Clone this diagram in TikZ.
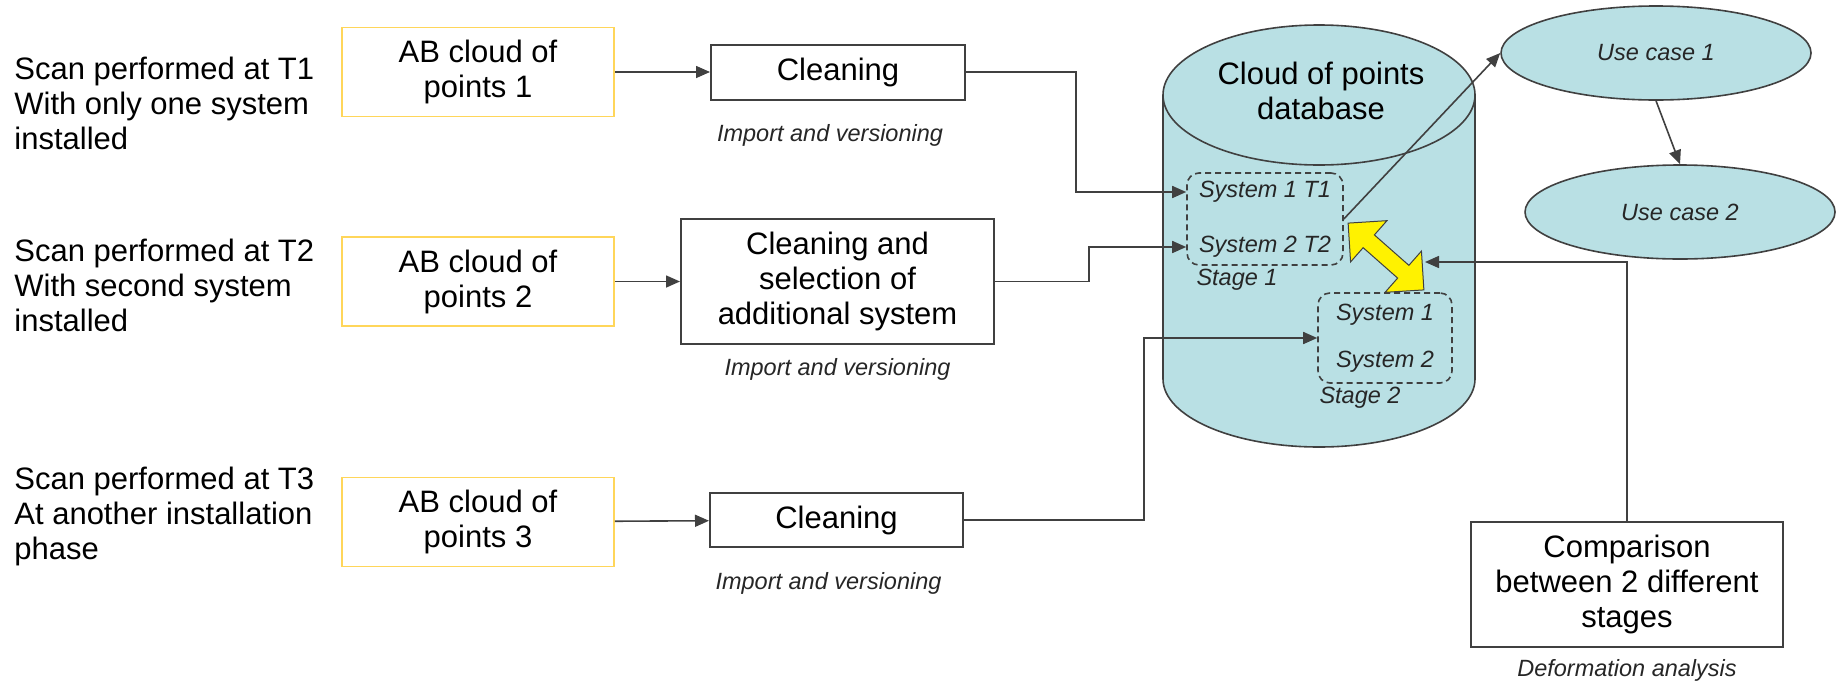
\documentclass[tikz,border=0pt]{standalone}
\usepackage{fontspec}
\setmainfont{Liberation Sans}
\usetikzlibrary{shapes,arrows.meta}

\definecolor{dbblue}{RGB}{185,224,228}
\definecolor{abgold}{RGB}{255,214,90}
\definecolor{linegray}{RGB}{64,64,64}

\begin{document}
\begin{tikzpicture}[x=0.5pt, y=0.5pt, >={Triangle[length=7pt,width=6pt]}]
		\tikzstyle{big} = [font=\fontsize{15.5}{17.5}\selectfont]
		\tikzstyle{note} = [font=\fontsize{11.75}{14}\selectfont\itshape, text=black!85]
		\tikzstyle{abbox} = [big, rectangle, draw=abgold, line width=0.9pt, minimum width=136pt, minimum height=44.5pt, align=center]
		\tikzstyle{task} = [big, rectangle, draw=linegray, line width=1pt, align=center, inner sep=0pt]
		\tikzstyle{stage} = [note, rectangle, rounded corners=6pt, draw=linegray, dash pattern=on 3pt off 2pt, line width=0.8pt, align=center, inner sep=0pt]
		\tikzstyle{usecase} = [note, ellipse, draw=linegray, fill=dbblue, line width=0.8pt, minimum width=155pt, minimum height=47pt]
		\tikzstyle{link} = [draw=linegray, line width=0.8pt]

		\useasboundingbox (0,0) rectangle (1836,-686);

		% scans and their clouds of points
		\foreach \n / \y / \ty / \txt in {1/72/103/{Scan performed at T1\\With only one system\\installed}, 2/281.5/285/{Scan performed at T2\\With second system\\installed}, 3/522/516/{Scan performed at T3\\At another installation\\phase}}
		{
			\node[big, align=left, anchor=west, inner sep=0pt] (scan-\n) at (14, -\ty) {\txt};
			\node[abbox] (ab-\n) at (478, -\y) {AB cloud of\\points \n};
		}

		% processing
		\node[task, minimum width=127pt, minimum height=27.5pt] (clean-1) at (838, -72) {Cleaning};
		\node[task, minimum width=156.5pt, minimum height=62.5pt] (clean-2) at (837.5, -281.5) {Cleaning and\\selection of\\additional system};
		\node[task, minimum width=126.5pt, minimum height=27pt] (clean-3) at (836.5, -520) {Cleaning};
		\node[note, below of=clean-1, node distance=31.5pt, xshift=-4pt] {Import and versioning};
		\node[note, below of=clean-2, node distance=44pt] {Import and versioning};
		\node[note, below of=clean-3, node distance=31.5pt, xshift=-4pt] {Import and versioning};

		% database
		\fill[dbblue] (1163,-95) -- (1163,-379) arc[start angle=180, end angle=360, x radius=78pt, y radius=34pt] -- (1475,-95) arc[start angle=0, end angle=180, x radius=78pt, y radius=35pt] -- cycle;
		\draw[linegray, line width=0.8pt] (1163,-95) -- (1163,-379) arc[start angle=180, end angle=360, x radius=78pt, y radius=34pt] -- (1475,-95);
		\draw[linegray, line width=0.8pt] (1319,-95) ellipse [x radius=78pt, y radius=35pt];
		\node[big, align=center] (db) at (1321, -90.5) {Cloud of points\\database};

		\node[stage, minimum width=78pt, minimum height=46pt] (stage-1) at (1265, -219) {System 1 T1\\[13.5pt]System 2 T2};
		\node[stage, minimum width=67pt, minimum height=45pt] (stage-2) at (1385, -338) {System 1\\[9.5pt]System 2};
		\node[note] at (1237, -280) {Stage 1};
		\node[note] at (1360, -398) {Stage 2};

		% stage comparison
		\node[double arrow, draw=linegray, line width=0.5pt, fill=yellow, rotate=-41.4, minimum height=50.5pt, inner xsep=0pt, inner ysep=4pt, double arrow head extend=9.5pt, double arrow tip angle=90] (swap) at (1386, -256.5) {};
		\coordinate (swap-in) at (1425, -262);

		% use cases
		\node[usecase] (use-1) at (1656, -53) {Use case 1};
		\node[usecase] (use-2) at (1680, -212) {Use case 2};

		% comparison
		\node[task, minimum width=156pt, minimum height=62.5pt] (compare) at (1627, -584.5) {Comparison\\between 2 different\\stages};
		\node[note, below of=compare, node distance=43pt] {Deformation analysis};

		% connections
		\foreach \n in {1, ..., 3}
			\draw[link, ->] (ab-\n) -- (clean-\n);
		\draw[link, ->] (clean-1.east) -- ++(55pt,0) |- ([yshift=13.5pt]stage-1.west);
		\draw[link, ->] (clean-2.east) -- ++(47pt,0) |- ([yshift=-14pt]stage-1.west);
		\draw[link, ->] (clean-3.east) -- ++(90pt,0) |- (stage-2.west);
		\draw[link, ->] (stage-1.east) -- (use-1.west);
		\draw[link, ->] (use-1.south) -- (use-2.north);
		\draw[link, ->] (compare.north) |- (swap-in);
	\end{tikzpicture}
\end{document}
